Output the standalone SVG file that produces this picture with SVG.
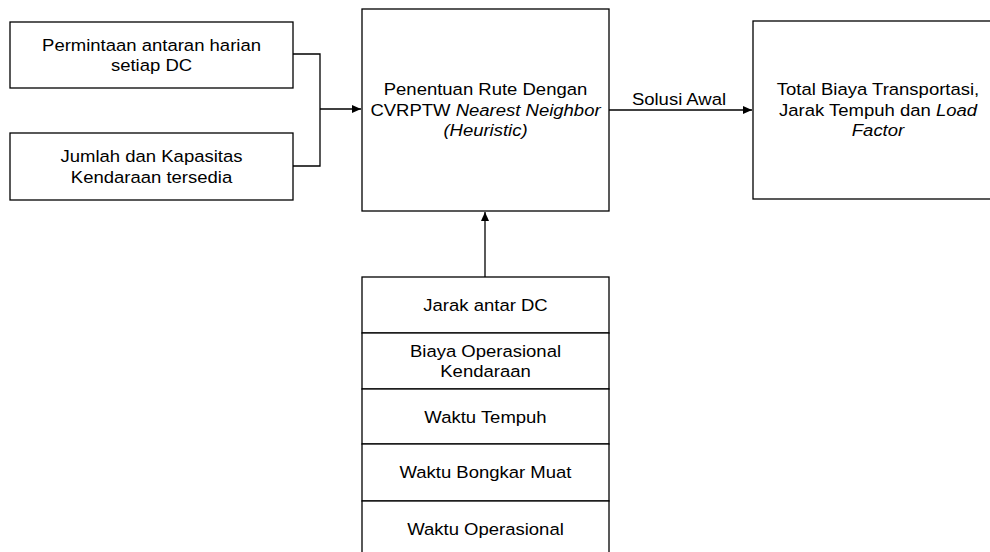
<svg xmlns="http://www.w3.org/2000/svg" width="990" height="552" viewBox="0 0 990 552">
<style>
.box{fill:#fff;stroke:#000;stroke-width:1.3}
.t{font-family:"Liberation Sans",Arial,sans-serif;font-size:16.3px;fill:#000;text-anchor:middle}
.i{font-style:italic}
.c{fill:none;stroke:#000;stroke-width:1.3}
</style>
<defs>
<marker id="ah" markerWidth="10" markerHeight="10" refX="9" refY="5" orient="auto" markerUnits="userSpaceOnUse">
<path d="M0,1 L9,5 L0,9 Z" fill="#000"/>
</marker>
</defs>
<rect width="990" height="552" fill="#fff"/>
<g id="connectors">
<path class="c" d="M293,54 H320 V166 H293"/>
<path class="c" d="M320,109 H361" marker-end="url(#ah)"/>
<path class="c" d="M609,110 H752" marker-end="url(#ah)"/>
<path class="c" d="M485,277 V212" marker-end="url(#ah)"/>
<text class="t" transform="translate(679,105) scale(1.135,1)">Solusi Awal</text>
</g>
<g id="n1">
<rect class="box" x="10" y="22" width="283" height="66"/>
<text class="t" transform="translate(151.5,50.5) scale(1.135,1)">Permintaan antaran harian</text>
<text class="t" transform="translate(151.5,70.5) scale(1.135,1)">setiap DC</text>
</g>
<g id="n2">
<rect class="box" x="10" y="133" width="283" height="67"/>
<text class="t" transform="translate(151.5,162.3) scale(1.135,1)">Jumlah dan Kapasitas</text>
<text class="t" transform="translate(151.5,182.5) scale(1.135,1)">Kendaraan tersedia</text>
</g>
<g id="n3">
<rect class="box" x="362" y="9" width="247" height="202"/>
<text class="t" transform="translate(485.5,95) scale(1.135,1)">Penentuan Rute Dengan</text>
<text class="t" transform="translate(485.5,115.5) scale(1.135,1)">CVRPTW <tspan class="i">Nearest Neighbor</tspan></text>
<text class="t i" transform="translate(485.5,136) scale(1.135,1)">(Heuristic)</text>
</g>
<g id="n4">
<rect class="box" x="753" y="21" width="250" height="178"/>
<text class="t" transform="translate(878,95) scale(1.135,1)">Total Biaya Transportasi,</text>
<text class="t" transform="translate(878,115.5) scale(1.135,1)">Jarak Tempuh dan <tspan class="i">Load</tspan></text>
<text class="t i" transform="translate(878,136) scale(1.135,1)">Factor</text>
</g>
<g id="n5">
<rect class="box" x="362" y="277" width="247" height="56"/>
<text class="t" transform="translate(485.5,311) scale(1.135,1)">Jarak antar DC</text>
</g>
<g id="n6">
<rect class="box" x="362" y="333" width="247" height="56"/>
<text class="t" transform="translate(485.5,356.8) scale(1.135,1)">Biaya Operasional</text>
<text class="t" transform="translate(485.5,376.8) scale(1.135,1)">Kendaraan</text>
</g>
<g id="n7">
<rect class="box" x="362" y="389" width="247" height="55"/>
<text class="t" transform="translate(485.5,422.5) scale(1.135,1)">Waktu Tempuh</text>
</g>
<g id="n8">
<rect class="box" x="362" y="444" width="247" height="57"/>
<text class="t" transform="translate(485.5,478.3) scale(1.135,1)">Waktu Bongkar Muat</text>
</g>
<g id="n9">
<rect class="box" x="362" y="501" width="247" height="56"/>
<text class="t" transform="translate(485.5,535) scale(1.135,1)">Waktu Operasional</text>
</g>
</svg>
